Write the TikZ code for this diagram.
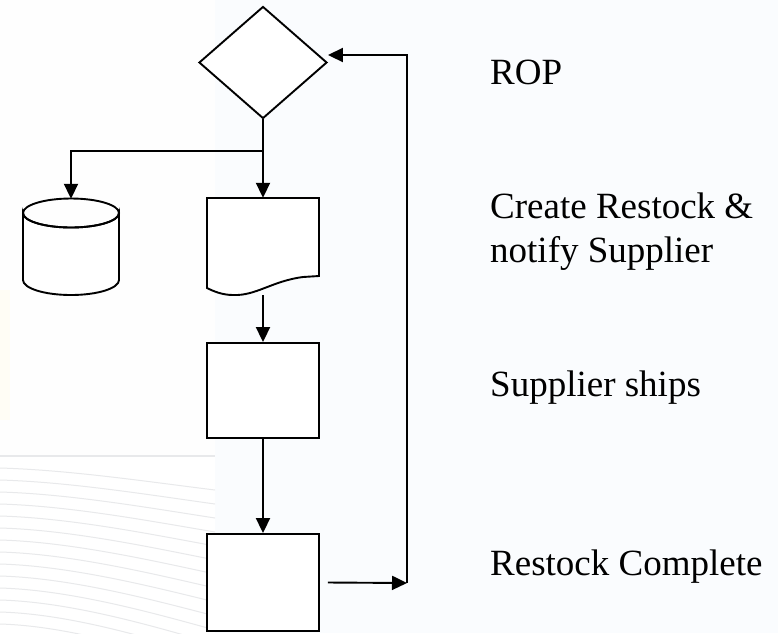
\documentclass[tikz,border=0pt]{standalone}
\usepackage{fontspec}
\setmainfont{Liberation Serif}
\usetikzlibrary{shapes.geometric,arrows.meta}

\definecolor{panel}{RGB}{250,252,254}
\definecolor{paper}{RGB}{254,254,254}
\definecolor{glow}{RGB}{255,253,245}
\definecolor{streak}{RGB}{232,233,235}

\tikzset{
  outline/.style={draw=black, line width=1.9pt, fill=white, line join=miter},
  flow/.style={draw=black, line width=1.9pt, -{Triangle[length=15pt,width=14pt]}},
  plainline/.style={draw=black, line width=1.9pt},
  anchorbox/.style={draw=none, inner sep=0pt},
  caption/.style={anchor=base west, inner sep=0pt, font=\fontsize{37}{44}\selectfont, align=left}
}

\begin{document}
\begin{tikzpicture}[x=1pt, y=-1pt]
  \useasboundingbox (0,0) rectangle (778,633);

  % slide background
  \fill[panel] (0,0) rectangle (778,633);
  \fill[paper] (0,0) rectangle (215,455);
  \fill[glow] (0,290) rectangle (10,420);
  \fill[white] (0,455) rectangle (215,633);
  \draw[streak, line width=1.2pt] (0,456) -- (215,456);
  \foreach \k in {0,...,13} {
    \draw[streak, line width=1pt]
      (0,{468+12*\k}) .. controls (70,{470+12*\k}) and (150,{482+13*\k}) .. (215,{490+14*\k});
  }

  % decision
  \node[diamond, outline, minimum width=128pt, minimum height=112pt, inner sep=0pt] (rop) at (263,62.5) {};

  % database
  \node[anchorbox, minimum width=96pt, minimum height=96pt] (db) at (71,247) {};
  \draw[outline] (23,213) -- (23,280) arc[start angle=180, end angle=0, x radius=48, y radius=15]
                 -- (119,213) arc[start angle=0, end angle=180, x radius=48, y radius=14.5] -- cycle;
  \draw[plainline] (71,213) ellipse[x radius=48, y radius=14.5];

  % document
  \node[anchorbox, minimum width=112pt, minimum height=97pt] (doc) at (263,246.5) {};
  \draw[outline] (207,198) -- (319,198) -- (319,276) -- (303,277)
                 .. controls (272,281) and (256,296) .. (233,295)
                 .. controls (222,295) and (213,291) .. (207,288) -- cycle;
  \coordinate (docout) at (263,295);

  % process boxes
  \node[outline, minimum width=112pt, minimum height=95pt, inner sep=0pt] (ship) at (263,390.5) {};
  \node[outline, minimum width=112pt, minimum height=97pt, inner sep=0pt] (done) at (263,582.5) {};

  % connectors
  \coordinate (split) at (263,151);
  \coordinate (ret) at (407,583);
  \draw[flow] (rop.south) -- (doc.north);
  \draw[flow] (split) -| (db.north);
  \draw[flow] (docout) -- (ship.north);
  \draw[flow] (ship.south) -- (done.north);
  \draw[flow] ([xshift=8pt]done.east) -- (ret);
  \draw[flow] (ret) |- ([yshift=7.5pt]rop.east);

  % step captions (base west of a two-line caption sits on its last line)
  \node[caption] (t1) at (490,84) {ROP};
  \node[caption] (t2) at (490,262) {Create Restock \&\\notify Supplier};
  \node[caption] (t3) at (490,396) {Supplier ships};
  \node[caption] (t4) at (490,575) {Restock Complete};
\end{tikzpicture}
\end{document}
